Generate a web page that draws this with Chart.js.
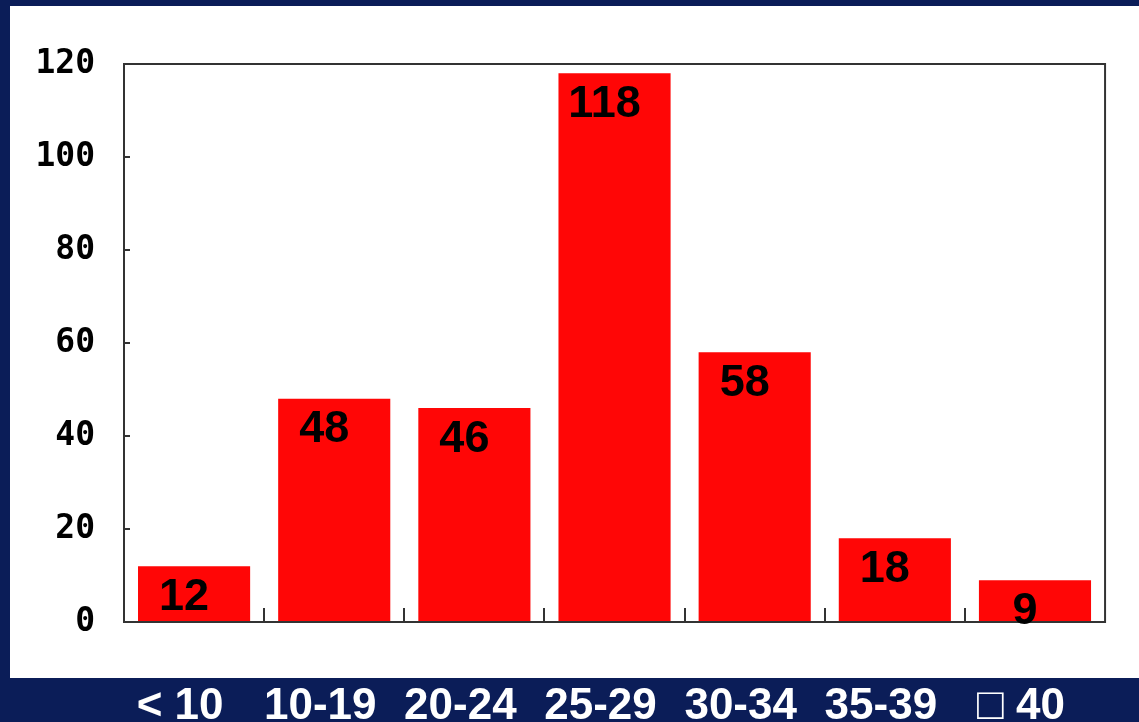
<!DOCTYPE html>
<html>
<head>
<meta charset="utf-8">
<title>Age groups</title>
<script src="https://cdn.jsdelivr.net/npm/chart.js@4"></script>
<style>
  html, body { margin: 0; padding: 0; background: #0b1d58; }
  #wrap { width: 1139px; height: 722px; }
</style>
</head>
<body>
<div id="wrap"><canvas id="myChart" width="1139" height="722"></canvas></div>
<script>
const ageGroups = ['< 10', '10-19', '20-24', '25-29', '30-34', '35-39', '\u25A1 40'];
const counts = [12, 48, 46, 118, 58, 18, 9];
const yTicks = [0, 20, 40, 60, 80, 100, 120];

const navy = '#0b1d58';
const frameColor = '#333333';

// navy page with a white panel behind the chart
const panelBackground = {
    id: 'panelBackground',
    beforeDraw(chart) {
        const ctx = chart.ctx;
        ctx.save();
        ctx.fillStyle = navy;
        ctx.fillRect(0, 0, chart.width, chart.height);
        ctx.fillStyle = '#ffffff';
        ctx.fillRect(10, 6, chart.width - 10, 672);
        ctx.restore();
    }
};

// box around the plot plus small inward tick marks
const plotFrame = {
    id: 'plotFrame',
    afterDatasetsDraw(chart) {
        const ctx = chart.ctx;
        const area = chart.chartArea;
        const y = chart.scales.y;
        ctx.save();
        ctx.strokeStyle = frameColor;
        ctx.lineWidth = 2;
        ctx.strokeRect(area.left, area.top, area.right - area.left, area.bottom - area.top);
        ctx.beginPath();
        yTicks.forEach(v => {
            const py = Math.round(y.getPixelForValue(v));
            ctx.moveTo(area.left, py);
            ctx.lineTo(area.left + 6, py);
        });
        const step = (area.right - area.left) / ageGroups.length;
        for (let i = 1; i < ageGroups.length; i++) {
            const px = Math.round(area.left + step * i);
            ctx.moveTo(px, area.bottom);
            ctx.lineTo(px, area.bottom - 14);
        }
        ctx.stroke();
        ctx.restore();
    }
};

// value written inside the top of each bar
const barValues = {
    id: 'barValues',
    afterDatasetsDraw(chart) {
        const ctx = chart.ctx;
        const meta = chart.getDatasetMeta(0);
        ctx.save();
        ctx.fillStyle = '#000000';
        ctx.font = 'bold 45px "Liberation Sans", Arial, sans-serif';
        ctx.textAlign = 'center';
        ctx.textBaseline = 'middle';
        meta.data.forEach((bar, i) => {
            ctx.fillText(String(counts[i]), bar.x - 10, bar.y + 31);
        });
        ctx.restore();
    }
};

const ctx = document.getElementById('myChart').getContext('2d');

new Chart(ctx, {
    type: 'bar',
    data: {
        labels: ageGroups,
        datasets: [{
            data: counts,
            backgroundColor: '#ff0606',
            borderWidth: 0,
            barPercentage: 0.8,
            categoryPercentage: 1.0
        }]
    },
    options: {
        responsive: false,
        animation: false,
        layout: { padding: { left: 0, top: 64, right: 30, bottom: 0 } },
        plugins: {
            legend: { display: false },
            tooltip: { enabled: false }
        },
        scales: {
            x: {
                grid: { display: false, drawTicks: false },
                border: { display: false },
                afterFit(scale) { scale.height = 100; },
                ticks: {
                    color: '#ffffff',
                    font: { family: '"Liberation Sans", Arial, sans-serif', size: 44, weight: 'bold' },
                    padding: 58,
                    labelOffset: -14,
                    maxRotation: 0,
                    autoSkip: false
                }
            },
            y: {
                min: 0,
                max: 120,
                grid: { display: false, drawTicks: false },
                border: { display: false },
                afterFit(scale) { scale.width = 124; },
                ticks: {
                    stepSize: 20,
                    color: '#000000',
                    padding: 29,
                    font: { family: '"DejaVu Sans Mono", monospace', size: 33, weight: 'bold' }
                }
            }
        }
    },
    plugins: [panelBackground, plotFrame, barValues]
});
</script>
</body>
</html>
